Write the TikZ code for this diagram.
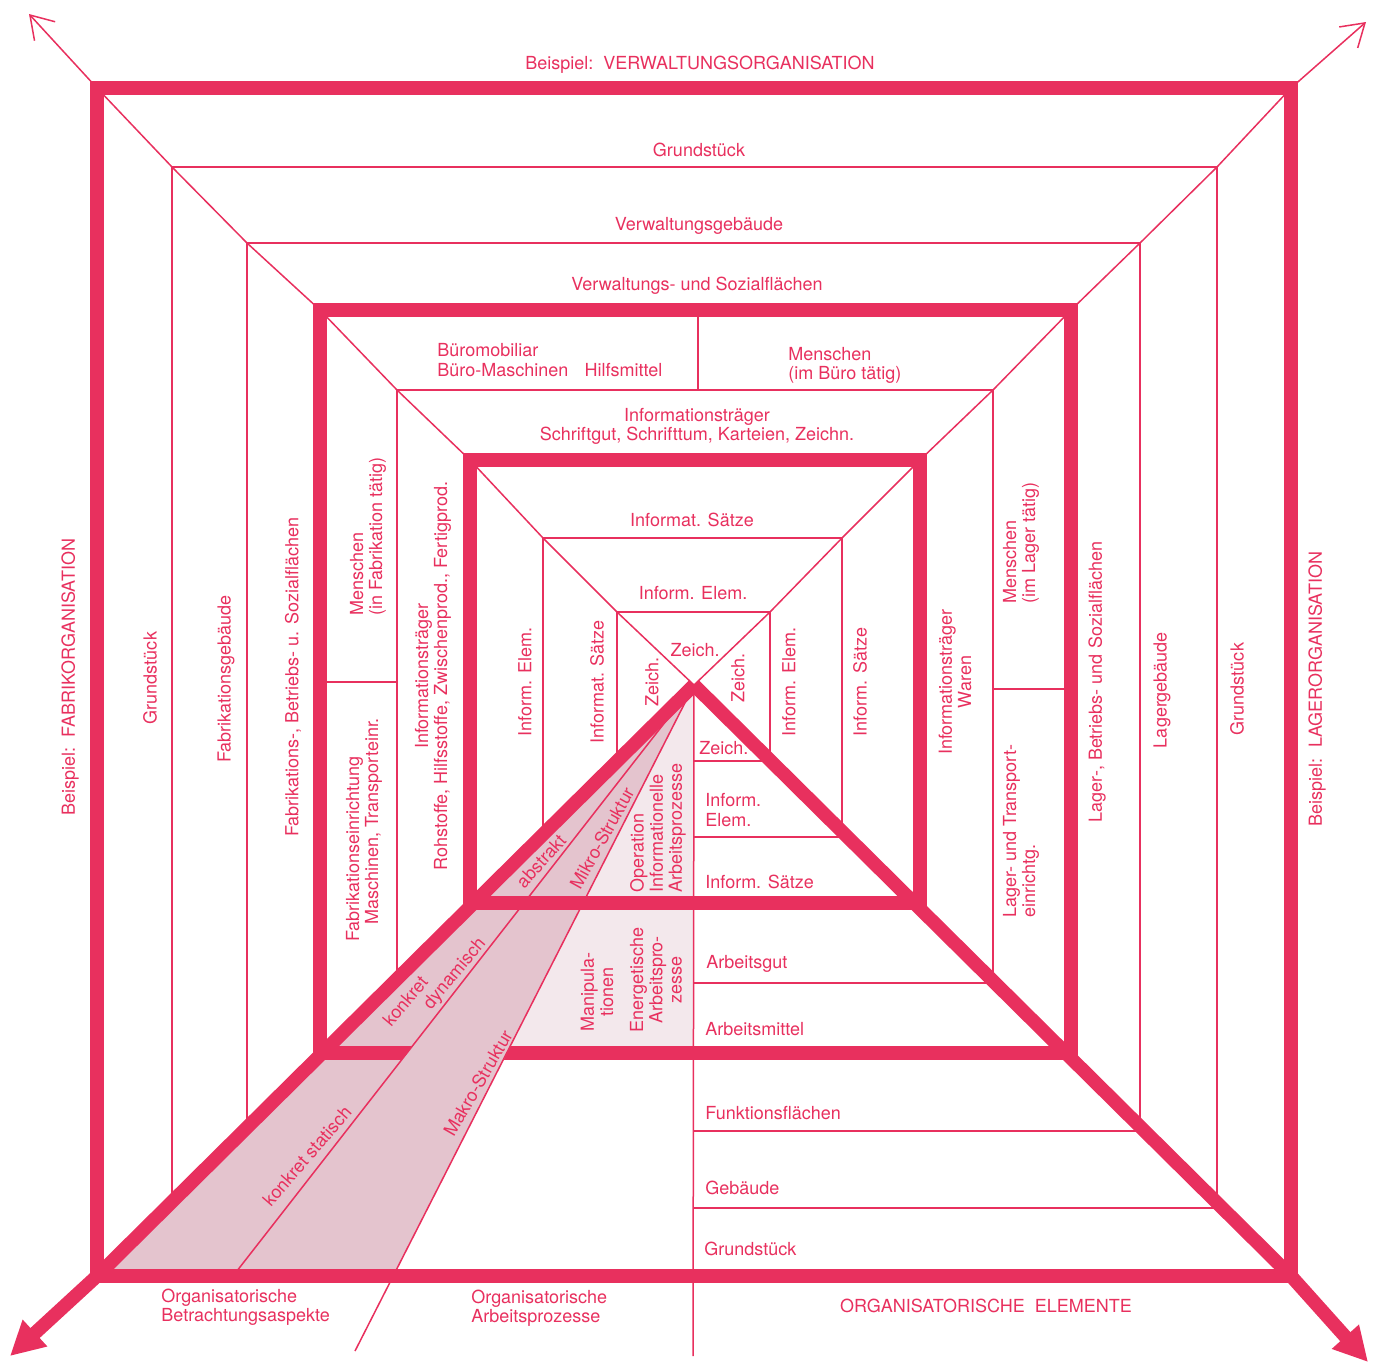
\documentclass[tikz,border=0pt]{standalone}
\usepackage{fontspec}
\setmainfont{TeX Gyre Heros}
\usetikzlibrary{arrows.meta}
\definecolor{OrgRed}{HTML}{E8305E}
\definecolor{OrgShade}{HTML}{E4C4CE}
\definecolor{OrgLight}{HTML}{F3E8EC}

\begin{document}
\begin{tikzpicture}[x=.5pt,y=-.5pt,
 rim/.style={line width=6.8pt,draw=OrgRed,line join=miter},
 fine/.style={line width=.75pt,draw=OrgRed},
 every node/.style={font=\fontsize{9}{9.6}\selectfont,text=OrgRed,inner sep=0pt},
 vtext/.style={rotate=90},
 ltext/.style={anchor=west,align=left}]
\useasboundingbox (0,0) rectangle (1374,1366);
\coordinate (V) at (694,685);
\coordinate (cTL) at (97,88);
\coordinate (cTR) at (1291,88);
\coordinate (cBR) at (1291,1276);
\coordinate (cBL) at (97,1276);
\coordinate (aEnd) at (233,1276);
\coordinate (bEnd) at (355,1351);
\fill[OrgShade] (V) -- (cBL) -- (393,1276) -- cycle;
\fill[OrgLight] (V) -- (507,1053) -- (693,1053) -- (693,685) -- cycle;
\draw[fine] (cTL) -- (172,167) -- (247,243) -- (320,310) -- (397,390) -- (470,460) -- (543,538) -- (617,612) -- (V);
\draw[fine] (cTR) -- (1217,167) -- (1140,243) -- (1071,310) -- (993,390) -- (920,460) -- (842,538) -- (770,612) -- (V);
\draw[fine] (172,167)--(1217,167) (247,243)--(1140,243) (397,390)--(993,390) (543,538)--(842,538) (617,612)--(770,612);
\draw[fine] (172,167)--(172,1202) (247,243)--(247,1128) (397,390)--(397,979) (543,538)--(543,834) (617,612)--(617,761);
\draw[fine] (1217,167)--(1217,1203) (1140,243)--(1140,1127) (993,390)--(993,981) (842,538)--(842,832) (770,612)--(770,760);
\draw[fine] (693,1208)--(1222,1208) (693,1131)--(1144,1131) (693,983)--(995,983) (693,837)--(848,837) (693,761)--(771,761);
\draw[fine] (698,310)--(698,390) (320,682)--(397,682) (993,689)--(1071,689);
\draw[fine] (V) -- (693,1356);
\draw[fine,-{Straight Barb[length=11pt,width=14pt]}] (cTL) -- (29,14);
\draw[fine,-{Straight Barb[length=11pt,width=14pt]}] (cTR) -- (1366,22);
\draw[rim] (cTL) rectangle (cBR);
\draw[rim] (320,310) rectangle (1071,1053);
\draw[rim] (470,460) rectangle (920,903);
\draw[rim,-{Triangle[length=17pt,width=17pt]}] (V) -- (cBL) -- (10,1356);
\draw[rim,-{Triangle[length=17pt,width=17pt]}] (V) -- (cBR) -- (1368,1362);
\fill[OrgShade] (413,1045) -- (511,1045) -- (503,1061) -- (401,1061) -- cycle;
\draw[fine] (V) -- (aEnd);
\draw[fine] (V) -- (bEnd);
% oben: Verwaltung
\node (topOrg) at (700,65) {Beispiel:~~VERWALTUNGSORGANISATION};
\node (topGrund) at (699,150) {Grundstück};
\node (topGeb) at (699,226) {Verwaltungsgebäude};
\node (topFlaech) at (697,286) {Verwaltungs- und Sozialflächen};
\node[ltext] (topMobil) at (437,360) {Büromobiliar\\Büro-Maschinen\hspace{.9em}Hilfsmittel};
\node[ltext] (topMensch) at (788,365) {Menschen\\(im Büro tätig)};
\node[align=center] (topTraeger) at (697,426) {Informationsträger\\Schriftgut, Schrifttum, Karteien, Zeichn.};
\node (topSaetze) at (692,520) {Informat. Sätze};
\node (topElem) at (693,593) {Inform. Elem.};
\node (topZeich) at (695,650) {Zeich.};
% links: Fabrik
\node[vtext] (lfOrg) at (70,677) {Beispiel:~~FABRIKORGANISATION};
\node[vtext] (lfGrund) at (150,678) {Grundstück};
\node[vtext] (lfGeb) at (226,679) {Fabrikationsgebäude};
\node[vtext] (lfFlaech) at (293,677) {Fabrikations-, Betriebs- u. Sozialflächen};
\node[vtext,ltext] (lfMensch) at (368,616) {Menschen\\(in Fabrikation tätig)};
\node[vtext,ltext] (lfEinr) at (364,942) {Fabrikationseinrichtung\\\hspace*{.95em}Maschinen, Transporteinr.};
\node[vtext,align=center] (lfTraeger) at (433,676) {Informationsträger\\Rohstoffe, Hilfsstoffe, Zwischenprod., Fertigprod.};
\node[vtext] (lfElem) at (525,682) {Inform. Elem.};
\node[vtext] (lfSaetze) at (597,682) {Informat. Sätze};
\node[vtext] (lfZeich) at (652,682) {Zeich.};
% rechts: Lager
\node[vtext] (rtZeich) at (738,678) {Zeich.};
\node[vtext] (rtElem) at (789,682) {Inform. Elem.};
\node[vtext] (rtSaetze) at (860,682) {Inform. Sätze};
\node[vtext,align=center] (rtTraeger) at (955,682) {Informationsträger\\Waren};
\node[vtext,ltext] (rtMensch) at (1021,604) {Menschen\\(im Lager tätig)};
\node[vtext,ltext] (rtEinr) at (1021,918) {Lager- und Transport-\\einrichtg.};
\node[vtext] (rtFlaech) at (1097,682) {Lager-, Betriebs- und Sozialflächen};
\node[vtext] (rtGeb) at (1162,690) {Lagergebäude};
\node[vtext] (rtGrund) at (1237,689) {Grundstück};
\node[vtext] (rtOrg) at (1317,689) {Beispiel:~~LAGERORGANISATION};
% unten: Elemente
\node[ltext] (btZeich) at (699,748) {Zeich.};
\node[ltext] (btElem) at (705,810) {Inform.\\Elem.};
\node[ltext] (btSaetze) at (705,882) {Inform. Sätze};
\node[ltext] (btGut) at (706,964) {Arbeitsgut};
\node[ltext] (btMittel) at (705,1029) {Arbeitsmittel};
\node[ltext] (btFlaech) at (705,1113) {Funktionsflächen};
\node[ltext] (btGeb) at (705,1188) {Gebäude};
\node[ltext] (btGrund) at (704,1249) {Grundstück};
% Aspekte und Prozesse
\node[rotate=48] (asAbstr) at (541,861) {abstrakt};
\node[rotate=61] (asMikro) at (602,838) {Mikro-Struktur};
\node[vtext,ltext] (prInfo) at (658,893) {Operation\\Informationelle\\Arbeitsprozesse};
\node[rotate=50,ltext] (asDyn) at (395,1031) {konkret\\\hspace*{2.15em}dynamisch};
\node[vtext,align=center] (prMani) at (597,992) {Manipula-\\tionen};
\node[vtext,align=center] (prEnerg) at (656,980) {Energetische\\Arbeitspro-\\zesse};
\node[rotate=49] (asStat) at (307,1156) {konkret statisch};
\node[rotate=60] (asMakro) at (478,1083) {Makro-Struktur};
\node[ltext] (lgAspekt) at (161,1307) {Organisatorische\\Betrachtungsaspekte};
\node[ltext] (lgProzess) at (471,1308) {Organisatorische\\Arbeitsprozesse};
\node (lgElem) at (986,1306) {ORGANISATORISCHE~~ELEMENTE};
\end{tikzpicture}
\end{document}
